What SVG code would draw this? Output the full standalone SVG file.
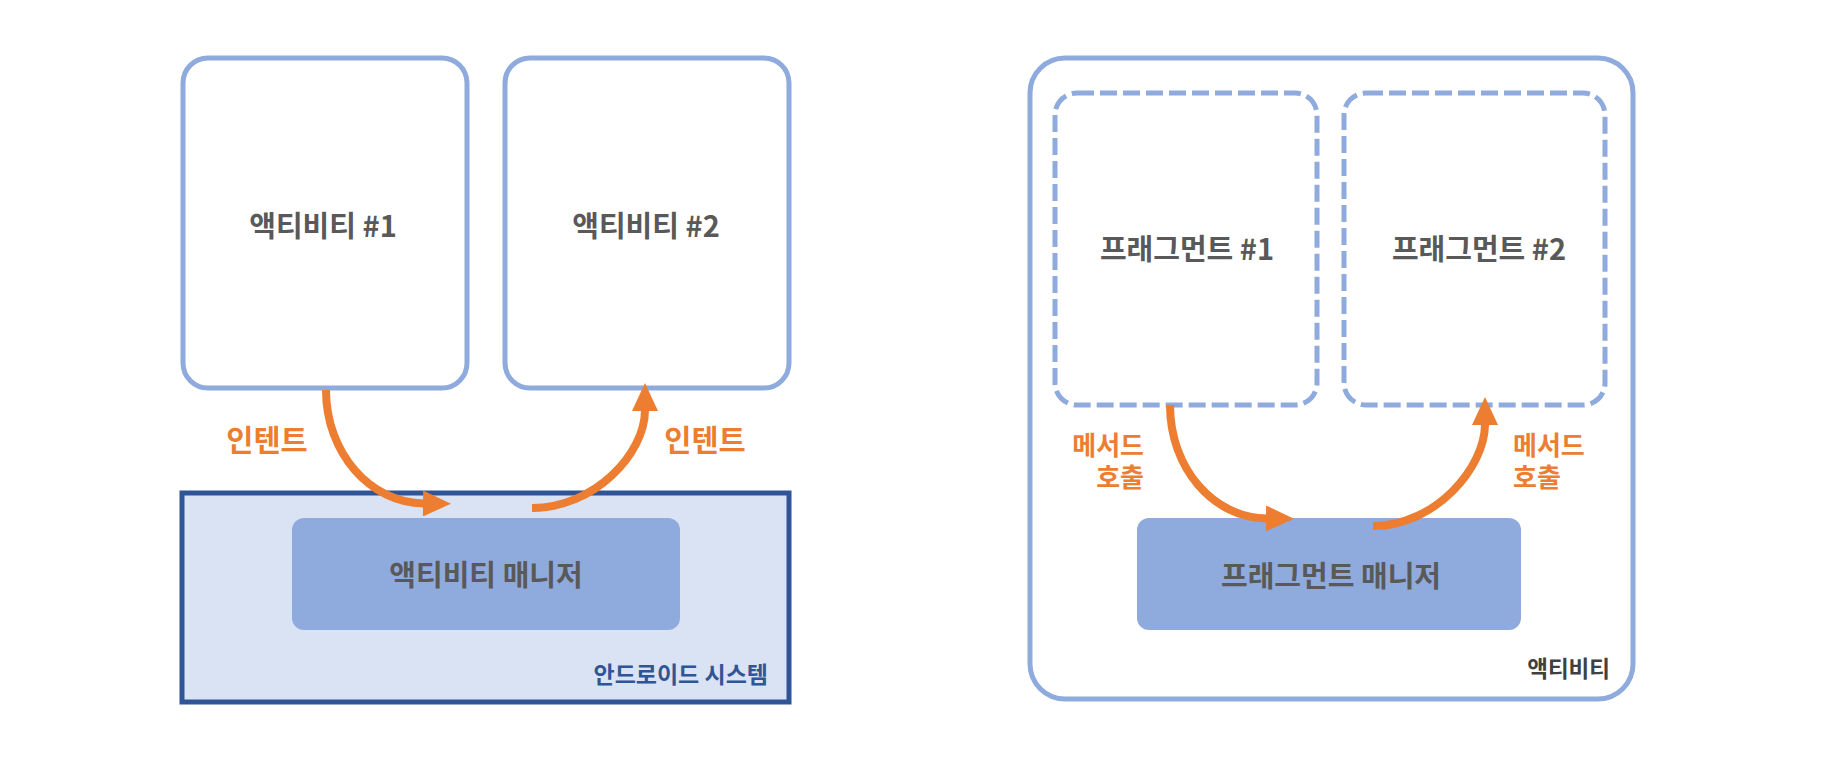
<svg xmlns="http://www.w3.org/2000/svg" width="1829" height="762" viewBox="0 0 1829 762">
<defs>
<style>
.box{fill:#ffffff;stroke:#8faadc;stroke-width:5}
.dash{fill:#ffffff;stroke:#8faadc;stroke-width:5;stroke-dasharray:17 6}
.mgr{fill:#8faadc;stroke:none}
.t{font-family:"Noto Sans CJK KR","Noto Sans",sans-serif;font-weight:bold;fill:#595959}
.title{font-size:29px;text-anchor:middle}
.mt{font-size:29px;text-anchor:middle}
.lbl{font-family:"Noto Sans CJK KR","Noto Sans",sans-serif;font-weight:bold;fill:#ed7d31}
.arr{fill:none;stroke:#ed7d31;stroke-width:8;marker-end:url(#ah)}
</style>
<marker id="ah" markerUnits="userSpaceOnUse" markerWidth="30" markerHeight="26" viewBox="0 0 28 26" refX="1" refY="13" orient="auto">
<path d="M0,0 L28,13 L0,26 z" fill="#ed7d31"/>
</marker>
</defs>
<rect width="1829" height="762" fill="#ffffff"/>

<g id="android-system">
<rect x="182" y="493" width="607" height="209" fill="#dae3f3" stroke="#2f5597" stroke-width="5"/>
<text x="768" y="683" class="t" style="font-size:23px;fill:#2f5597;text-anchor:end">안드로이드 시스템</text>
</g>
<g id="activity1">
<rect class="box" x="183" y="58" width="284" height="330" rx="25"/>
<text class="t title" x="323" y="237">액티비티 #1</text>
</g>
<g id="activity2">
<rect class="box" x="505" y="58" width="284" height="330" rx="25"/>
<text class="t title" x="646" y="237">액티비티 #2</text>
</g>
<g id="activity-manager">
<rect class="mgr" x="292" y="518" width="388" height="112" rx="12"/>
<text class="t mt" x="486" y="586">액티비티 매니저</text>
</g>

<g id="activity">
<rect class="box" x="1030" y="58" width="603" height="641" rx="35"/>
<text x="1610" y="677" class="t" style="font-size:22.5px;fill:#404040;text-anchor:end">액티비티</text>
</g>
<g id="fragment1">
<rect class="dash" x="1055" y="93" width="262" height="312" rx="22"/>
<text class="t title" x="1187" y="260">프래그먼트 #1</text>
</g>
<g id="fragment2">
<rect class="dash" x="1344" y="93" width="261" height="312" rx="22"/>
<text class="t title" x="1479" y="260">프래그먼트 #2</text>
</g>
<g id="fragment-manager">
<rect class="mgr" x="1137" y="518" width="384" height="112" rx="12"/>
<text class="t mt" x="1331" y="587">프래그먼트 매니저</text>
</g>

<g id="connectors">
<path class="arr" d="M326,390 C326,453 370,503 424,503.5"/>
<path class="arr" d="M532,508 C594,508 645,454 645,410"/>
<path class="arr" d="M1170,405 C1170,468 1213,518 1267,518.5"/>
<path class="arr" d="M1373,526 C1435,526 1485,468 1485,424"/>
<text class="lbl" x="267" y="451" style="font-size:29.5px;text-anchor:middle">인텐트</text>
<text class="lbl" x="705" y="451" style="font-size:29.5px;text-anchor:middle">인텐트</text>
<text class="lbl" style="font-size:26px;text-anchor:end"><tspan x="1144" y="455">메서드</tspan><tspan x="1144" y="487">호출</tspan></text>
<text class="lbl" style="font-size:26px;text-anchor:start"><tspan x="1513" y="455">메서드</tspan><tspan x="1513" y="487">호출</tspan></text>
</g>
</svg>
